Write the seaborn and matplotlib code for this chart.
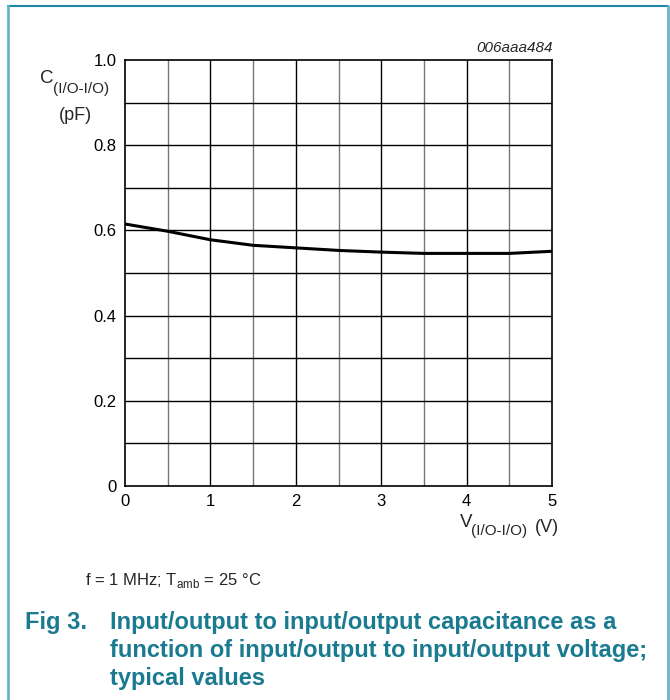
"""Capacitance C(I/O-I/O) versus V(I/O-I/O), datasheet figure 006aaa484."""
import matplotlib
matplotlib.use("Agg")
import matplotlib.pyplot as plt
from matplotlib.lines import Line2D
import numpy as np
import pandas as pd
import seaborn as sns

# data
voltage = [0.0, 0.5, 1.0, 1.5, 2.0, 2.5, 3.0, 3.5, 4.0, 4.5, 5.0]
capacitance = [0.615, 0.598, 0.578, 0.565, 0.559, 0.553, 0.549, 0.546, 0.546, 0.546, 0.551]
x_ticks = [0, 1, 2, 3, 4, 5]
y_ticks = [0, 0.2, 0.4, 0.6, 0.8, 1.0]
y_tick_labels = ["0", "0.2", "0.4", "0.6", "0.8", "1.0"]

W, H = 670, 700
TEAL = "#1a7a90"
FRAME_TOP = "#1f88a3"
FRAME_SIDE = "#6db3c6"

sns.set_theme(style="white")
plt.rcParams["font.family"] = ["Liberation Sans", "DejaVu Sans"]

df = pd.DataFrame({"V": voltage, "C": capacitance})


def px(x, y):
    """pixel position (from top-left) -> figure fraction"""
    return x / W, 1 - y / H


fig = plt.figure(figsize=(W / 100, H / 100), dpi=100)
ax = fig.add_axes([125 / W, 1 - 486 / H, 427 / W, 426 / H])

# grid: integer volts black, half volts grey
for xv in np.arange(0.5, 5.0, 0.5):
    ax.axvline(xv, color="black" if xv % 1 == 0 else "#777777", lw=1.0, zorder=1)
for yv in np.arange(0.1, 1.0, 0.1):
    ax.axhline(yv, color="black", lw=1.0, zorder=1)

sns.lineplot(data=df, x="V", y="C", color="black", lw=2.2, ax=ax, zorder=3)

ax.set_xlim(0, 5)
ax.set_ylim(0, 1.0)
ax.set_xticks(x_ticks)
ax.set_yticks(y_ticks)
ax.set_yticklabels(y_tick_labels)
ax.tick_params(axis="both", length=0, labelsize=12, colors="black")
ax.tick_params(axis="x", pad=6)
ax.tick_params(axis="y", pad=6)
for s in ax.spines.values():
    s.set_color("black")
    s.set_linewidth(1.2)
ax.set_xlabel("")
ax.set_ylabel("")

# y axis label
fig.text(*px(40, 83), "C", ha="left", va="baseline", fontsize=13.5)
fig.text(*px(53, 93), "(I/O-I/O)", ha="left", va="baseline", fontsize=11)
fig.text(*px(75, 120), "(pF)", ha="center", va="baseline", fontsize=13)

# x axis label
fig.text(*px(460, 527), "V", ha="left", va="baseline", fontsize=13.5)
fig.text(*px(471, 535), "(I/O-I/O)", ha="left", va="baseline", fontsize=11)
fig.text(*px(559, 532), "(V)", ha="right", va="baseline", fontsize=13)

fig.text(*px(553, 48), "006aaa484", ha="right", va="center",
         fontsize=11, style="italic")

fig.text(*px(85, 580), r"f = 1 MHz; T$_{\mathregular{amb}}$ = 25 $\mathregular{°}$C",
         ha="left", va="center", fontsize=12)

fig.text(*px(25, 622), "Fig 3.", ha="left", va="center", fontsize=17,
         fontweight="bold", color=TEAL)
caption = ["Input/output to input/output capacitance as a",
           "function of input/output to input/output voltage;",
           "typical values"]
for i, line in enumerate(caption):
    fig.text(*px(110, 622 + 28 * i), line, ha="left", va="center",
             fontsize=17, fontweight="bold", color=TEAL)

# page frame
fig.add_artist(Line2D([8 / W, 668 / W], [1 - 6 / H, 1 - 6 / H],
                      transform=fig.transFigure, color=FRAME_TOP, lw=1.5))
fig.add_artist(Line2D([8 / W, 8 / W], [0, 1 - 6 / H],
                      transform=fig.transFigure, color=FRAME_SIDE, lw=2))
fig.add_artist(Line2D([668 / W, 668 / W], [0, 1 - 6 / H],
                      transform=fig.transFigure, color=FRAME_SIDE, lw=2))

fig.savefig("out.png", dpi=100)
